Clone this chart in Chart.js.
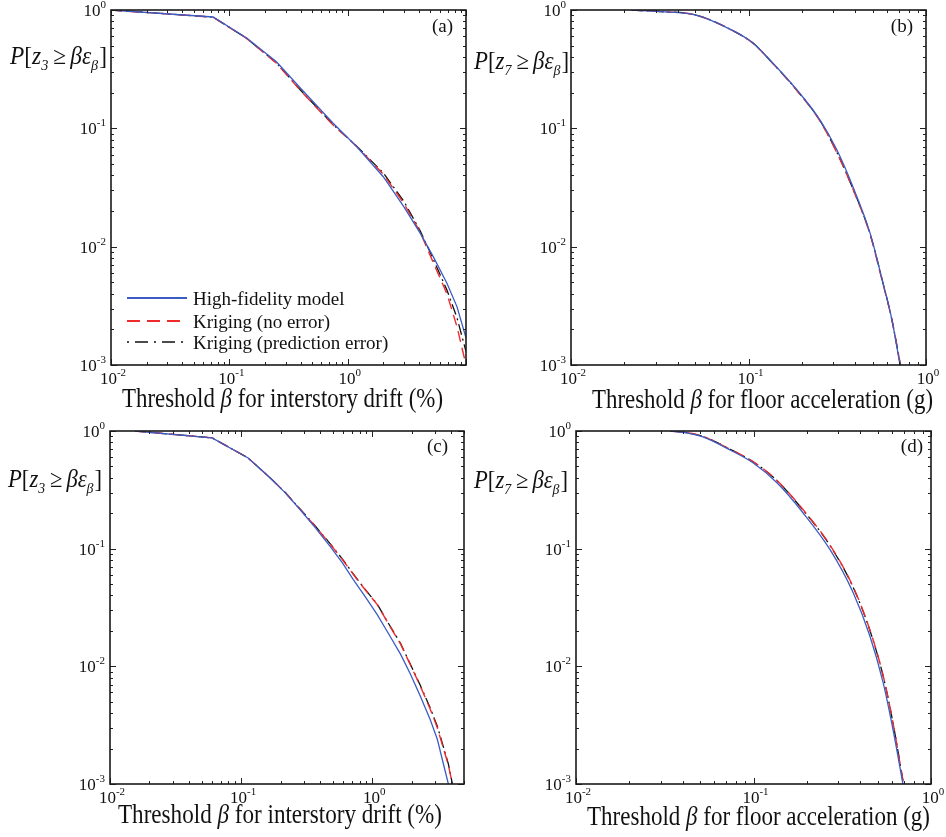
<!DOCTYPE html>
<html><head><meta charset="utf-8">
<script src="https://cdn.jsdelivr.net/npm/chart.js@4.4.1/dist/chart.umd.min.js"></script>
<style>
html,body{margin:0;padding:0;background:#fff;}
#wrap{position:relative;width:946px;height:837px;overflow:hidden;}
canvas{position:absolute;}
</style></head><body><div id="wrap">
<canvas id="ca" width="473" height="418" style="left:0;top:0"></canvas>
<canvas id="cb" width="473" height="418" style="left:473px;top:0"></canvas>
<canvas id="cc" width="473" height="419" style="left:0;top:418px"></canvas>
<canvas id="cd" width="473" height="419" style="left:473px;top:418px"></canvas>
</div>
<script>
// ---------------- DATA ----------------
// Panel (a): interstory drift (%), story 3
const xA   = [0.01, 0.0728, 0.14, 0.25, 0.40, 0.75, 1.2, 2.0, 3.0, 4.1, 5.3, 6.9, 8.4, 10];
const hfA  = [1.0, 0.873, 0.58, 0.365, 0.218, 0.111, 0.0695, 0.039, 0.0216, 0.0130, 0.0082, 0.0049, 0.0031, 0.0017];
const krA  = [1.0, 0.870, 0.575, 0.355, 0.208, 0.107, 0.0700, 0.041, 0.0230, 0.0133, 0.0073, 0.0040, 0.0021, 0.0010];
const kpA  = [1.0, 0.871, 0.577, 0.357, 0.210, 0.108, 0.0702, 0.042, 0.0240, 0.0136, 0.0078, 0.0043, 0.0025, 0.0013];

// Panel (b): floor acceleration (g), floor 7
const xB_hf = [0.022, 0.032, 0.05, 0.08, 0.106, 0.132, 0.1876, 0.253, 0.315, 0.388, 0.484, 0.573, 0.643, 0.714];
const hfB   = [1.0, 0.97, 0.91, 0.68, 0.526, 0.378, 0.211, 0.1175, 0.0655, 0.0319, 0.0130, 0.0049, 0.0024, 0.0010];
const xB_kr = [0.022, 0.032, 0.05, 0.08, 0.106, 0.132, 0.1876, 0.253, 0.315, 0.388, 0.484, 0.573, 0.643, 0.718];
const krB   = [1.0, 0.97, 0.91, 0.68, 0.524, 0.375, 0.208, 0.115, 0.0620, 0.0305, 0.0127, 0.0048, 0.0024, 0.0010];
const kpB   = [1.0, 0.97, 0.91, 0.68, 0.525, 0.376, 0.209, 0.116, 0.0625, 0.0308, 0.0128, 0.0049, 0.0024, 0.0010];

// Panel (c): interstory drift (%), story 3
const xC_hf = [0.0155, 0.060, 0.113, 0.166, 0.217, 0.282, 0.367, 0.478, 0.59, 0.716, 0.885, 1.09, 1.32, 1.64, 1.95, 2.32, 2.77, 3.13, 3.8];
const hfC   = [1.0, 0.873, 0.59, 0.40, 0.298, 0.214, 0.151, 0.104, 0.076, 0.0546, 0.039, 0.0275, 0.0192, 0.0127, 0.0086, 0.0056, 0.0035, 0.0024, 0.0010];
const xC_kr = [0.0155, 0.060, 0.113, 0.166, 0.217, 0.282, 0.367, 0.478, 0.59, 0.716, 0.885, 1.09, 1.32, 1.64, 1.95, 2.32, 2.77, 3.13, 3.8, 4.08];
const krC   = [1.0, 0.875, 0.59, 0.40, 0.300, 0.216, 0.155, 0.109, 0.081, 0.0605, 0.0445, 0.0335, 0.0232, 0.0155, 0.0103, 0.0068, 0.0043, 0.0030, 0.00145, 0.0010];
const kpC   = [1.0, 0.875, 0.59, 0.40, 0.300, 0.217, 0.156, 0.110, 0.082, 0.0610, 0.0448, 0.0338, 0.0234, 0.0157, 0.0104, 0.0069, 0.0044, 0.0031, 0.00148, 0.0010];

// Panel (d): floor acceleration (g), floor 7
const xD_hf = [0.0339, 0.042, 0.0519, 0.0738, 0.0993, 0.1356, 0.19, 0.27, 0.364, 0.453, 0.537, 0.611, 0.695];
const hfD   = [1.0, 0.965, 0.89, 0.69, 0.537, 0.363, 0.202, 0.098, 0.0424, 0.0180, 0.0073, 0.0029, 0.0010];
const xD_kr = [0.0339, 0.042, 0.0519, 0.0738, 0.0993, 0.1356, 0.19, 0.27, 0.364, 0.453, 0.537, 0.611, 0.700];
const krD   = [1.0, 0.968, 0.90, 0.70, 0.55, 0.38, 0.215, 0.107, 0.0475, 0.0203, 0.0084, 0.0033, 0.0010];
const kpD   = [1.0, 0.968, 0.90, 0.70, 0.548, 0.378, 0.213, 0.106, 0.0470, 0.0201, 0.0083, 0.0033, 0.0010];

// Tick labels (powers of ten)
const yTickVals = [0.001, 0.01, 0.1, 1];
const yTickExps = ['-3', '-2', '-1', '0'];
const xTickVals = [0.01, 0.1, 1];
const xTickExps = ['-2', '-1', '0'];

const seriesNames = ['High-fidelity model', 'Kriging (no error)', 'Kriging (prediction error)'];
const xTitleDrift = 'for interstory drift (%)';
const xTitleAcc = 'for floor acceleration (g)';

// ---------------- STYLE / DRAW ----------------
const FONT = '"Liberation Serif", "Times New Roman", serif';
const BLUE = '#3b5cc4', RED = '#ee2a2a', BLACK = '#111111';
const DASH_RED = [11, 6], DASH_BLK = [11, 4, 2, 4];

function pts(xs, ys) { return xs.map((x, i) => ({x: x, y: ys[i]})); }

function font(sz, it) { return (it ? 'italic ' : '') + sz + 'px ' + FONT; }

function drawSegs(ctx, segs, left, baseline, targetW, sy) {
  let w = 0;
  for (const s of segs) { ctx.font = font(s.sz, s.it); w += ctx.measureText(s.t).width + (s.gap || 0); }
  const sx = targetW ? targetW / w : 1;
  ctx.save();
  ctx.translate(left, baseline);
  ctx.scale(sx, sy || 1);
  ctx.textAlign = 'left'; ctx.textBaseline = 'alphabetic';
  let x = 0;
  for (const s of segs) {
    ctx.font = font(s.sz, s.it);
    ctx.fillText(s.t, x, s.dy || 0);
    x += ctx.measureText(s.t).width + (s.gap || 0);
  }
  ctx.restore();
}

function drawPow(ctx, exp, x, y, align) {
  ctx.font = font(17);
  const wb = ctx.measureText('10').width;
  ctx.font = font(11);
  const we = ctx.measureText(exp).width;
  const tot = wb + we;
  const x0 = align === 'center' ? x - tot / 2 : (align === 'right' ? x - tot : x);
  ctx.textAlign = 'left'; ctx.textBaseline = 'alphabetic';
  ctx.font = font(17); ctx.fillText('10', x0, y);
  ctx.font = font(11); ctx.fillText(exp, x0 + wb, y - 8);
}

function logTicks(min, max) {
  const out = [];
  for (let n = Math.floor(Math.log10(min)) - 1; n <= Math.ceil(Math.log10(max)); n++) {
    for (let k = 1; k <= 9; k++) {
      const v = k * Math.pow(10, n);
      if (v >= min * 0.9999 && v <= max * 1.0001) out.push({v: v, major: k === 1});
    }
  }
  return out;
}

const decor = {
  id: 'decor',
  afterDraw(chart) {
    const o = chart.options.plugins.decor;
    const ctx = chart.ctx, a = chart.chartArea;
    const xs = chart.scales.x, ys = chart.scales.y;
    ctx.save();
    ctx.fillStyle = '#111'; ctx.strokeStyle = '#222'; ctx.lineWidth = 1;
    ctx.setLineDash([]);
    ctx.beginPath();
    for (const t of logTicks(xs.min, xs.max)) {
      const p = Math.round(xs.getPixelForValue(t.v)) + 0.5;
      const L = t.major ? 6 : 3;
      ctx.moveTo(p, a.bottom); ctx.lineTo(p, a.bottom - L);
      ctx.moveTo(p, a.top); ctx.lineTo(p, a.top + L);
    }
    for (const t of logTicks(ys.min, ys.max)) {
      const p = Math.round(ys.getPixelForValue(t.v)) + 0.5;
      const L = t.major ? 6 : 3;
      ctx.moveTo(a.left, p); ctx.lineTo(a.left + L, p);
      ctx.moveTo(a.right, p); ctx.lineTo(a.right - L, p);
    }
    ctx.stroke();
    ctx.lineWidth = 1.6; ctx.strokeStyle = '#1a1a1a';
    ctx.strokeRect(a.left, a.top, a.right - a.left, a.bottom - a.top);
    // tick labels
    xTickVals.forEach((v, i) => drawPow(ctx, xTickExps[i], xs.getPixelForValue(v) + 2, a.bottom + 19, 'center'));
    yTickVals.forEach((v, i) => drawPow(ctx, yTickExps[i], a.left - 5, ys.getPixelForValue(v) + 6, 'right'));
    // x title
    drawSegs(ctx, [
      {t: 'Threshold ', sz: 23}, {t: 'β', sz: 23, it: true}, {t: ' ' + o.xTitle, sz: 23}
    ], o.xtL, o.xtB, o.xtW, 1.15);
    // y label
    drawSegs(ctx, [
      {t: 'P', sz: 23, it: true}, {t: '[', sz: 23}, {t: 'z', sz: 23, it: true},
      {t: o.sub, sz: 14, it: true, dy: 6, gap: 5}, {t: '≥', sz: 23, gap: 4},
      {t: 'β', sz: 23, it: true}, {t: 'ε', sz: 23, it: true},
      {t: 'β', sz: 14, it: true, dy: 6, gap: 1}, {t: ']', sz: 23}
    ], o.ylL, o.ylB, o.ylW, 1.08);
    // panel letter
    ctx.font = font(19); ctx.textAlign = 'right'; ctx.textBaseline = 'alphabetic';
    ctx.fillText(o.letter, o.lR, o.lB);
    // legend
    if (o.legend) {
      const L = o.legend;
      const styles = [{c: BLUE, d: [], w: 2.2}, {c: RED, d: [13, 7], w: 1.8}, {c: BLACK, d: [2, 6, 13, 6], w: 1.6}];
      styles.forEach((s, i) => {
        ctx.beginPath(); ctx.setLineDash(s.d); ctx.strokeStyle = s.c; ctx.lineWidth = s.w;
        ctx.moveTo(L.x0, L.ys[i]); ctx.lineTo(L.x1, L.ys[i]); ctx.stroke();
        ctx.setLineDash([]);
        ctx.font = font(19); ctx.textAlign = 'left'; ctx.fillStyle = '#111';
        ctx.fillText(seriesNames[i], L.tx, L.ys[i] + 7);
      });
    }
    ctx.restore();
  }
};

function makeChart(id, pad, xmax, data, tension, deco) {
  const ds = [
    {label: seriesNames[0], data: data[0], borderColor: BLUE, borderWidth: 1.3, borderDash: []},
    {label: seriesNames[1], data: data[1], borderColor: RED, borderWidth: 1.4, borderDash: DASH_RED},
    {label: seriesNames[2], data: data[2], borderColor: BLACK, borderWidth: 1.3, borderDash: DASH_BLK}
  ].map(d => Object.assign(d, {pointRadius: 0, fill: false, tension: tension ? 0.4 : 0,
      cubicInterpolationMode: tension ? 'monotone' : 'default'}));
  return new Chart(document.getElementById(id), {
    type: 'line',
    data: {datasets: ds},
    options: {
      responsive: false, animation: false, events: [],
      parsing: true,
      layout: {padding: pad},
      scales: {
        x: {type: 'logarithmic', min: 0.01, max: xmax, display: false},
        y: {type: 'logarithmic', min: 0.001, max: 1, display: false}
      },
      plugins: {legend: {display: false}, tooltip: {enabled: false}, decor: deco}
    },
    plugins: [decor]
  });
}

makeChart('ca', {left: 111, top: 10, right: 7, bottom: 53}, 10,
  [pts(xA, hfA), pts(xA, krA), pts(xA, kpA)], false,
  {xTitle: xTitleDrift, xtL: 122, xtB: 407, xtW: 321, sub: '3', ylL: 10, ylB: 64, ylW: 97,
   letter: '(a)', lR: 453, lB: 32,
   legend: {x0: 127, x1: 187, tx: 193, ys: [298, 321, 342]}});

makeChart('cb', {left: 98, top: 10, right: 20, bottom: 53}, 1,
  [pts(xB_hf, hfB), pts(xB_kr, krB), pts(xB_kr, kpB)], true,
  {xTitle: xTitleAcc, xtL: 119, xtB: 408, xtW: 341, sub: '7', ylL: 1, ylB: 69, ylW: 95,
   letter: '(b)', lR: 440, lB: 32});

makeChart('cc', {left: 110, top: 13, right: 9, bottom: 53}, 5,
  [pts(xC_hf, hfC), pts(xC_kr, krC), pts(xC_kr, kpC)], false,
  {xTitle: xTitleDrift, xtL: 118, xtB: 405, xtW: 324, sub: '3', ylL: 8, ylB: 69, ylW: 94,
   letter: '(c)', lR: 448, lB: 34});

makeChart('cd', {left: 103, top: 13, right: 15, bottom: 53}, 1,
  [pts(xD_hf, hfD), pts(xD_kr, krD), pts(xD_kr, kpD)], true,
  {xTitle: xTitleAcc, xtL: 114, xtB: 407, xtW: 343, sub: '7', ylL: 1, ylB: 70, ylW: 94,
   letter: '(d)', lR: 450, lB: 34});
</script>
</body></html>
